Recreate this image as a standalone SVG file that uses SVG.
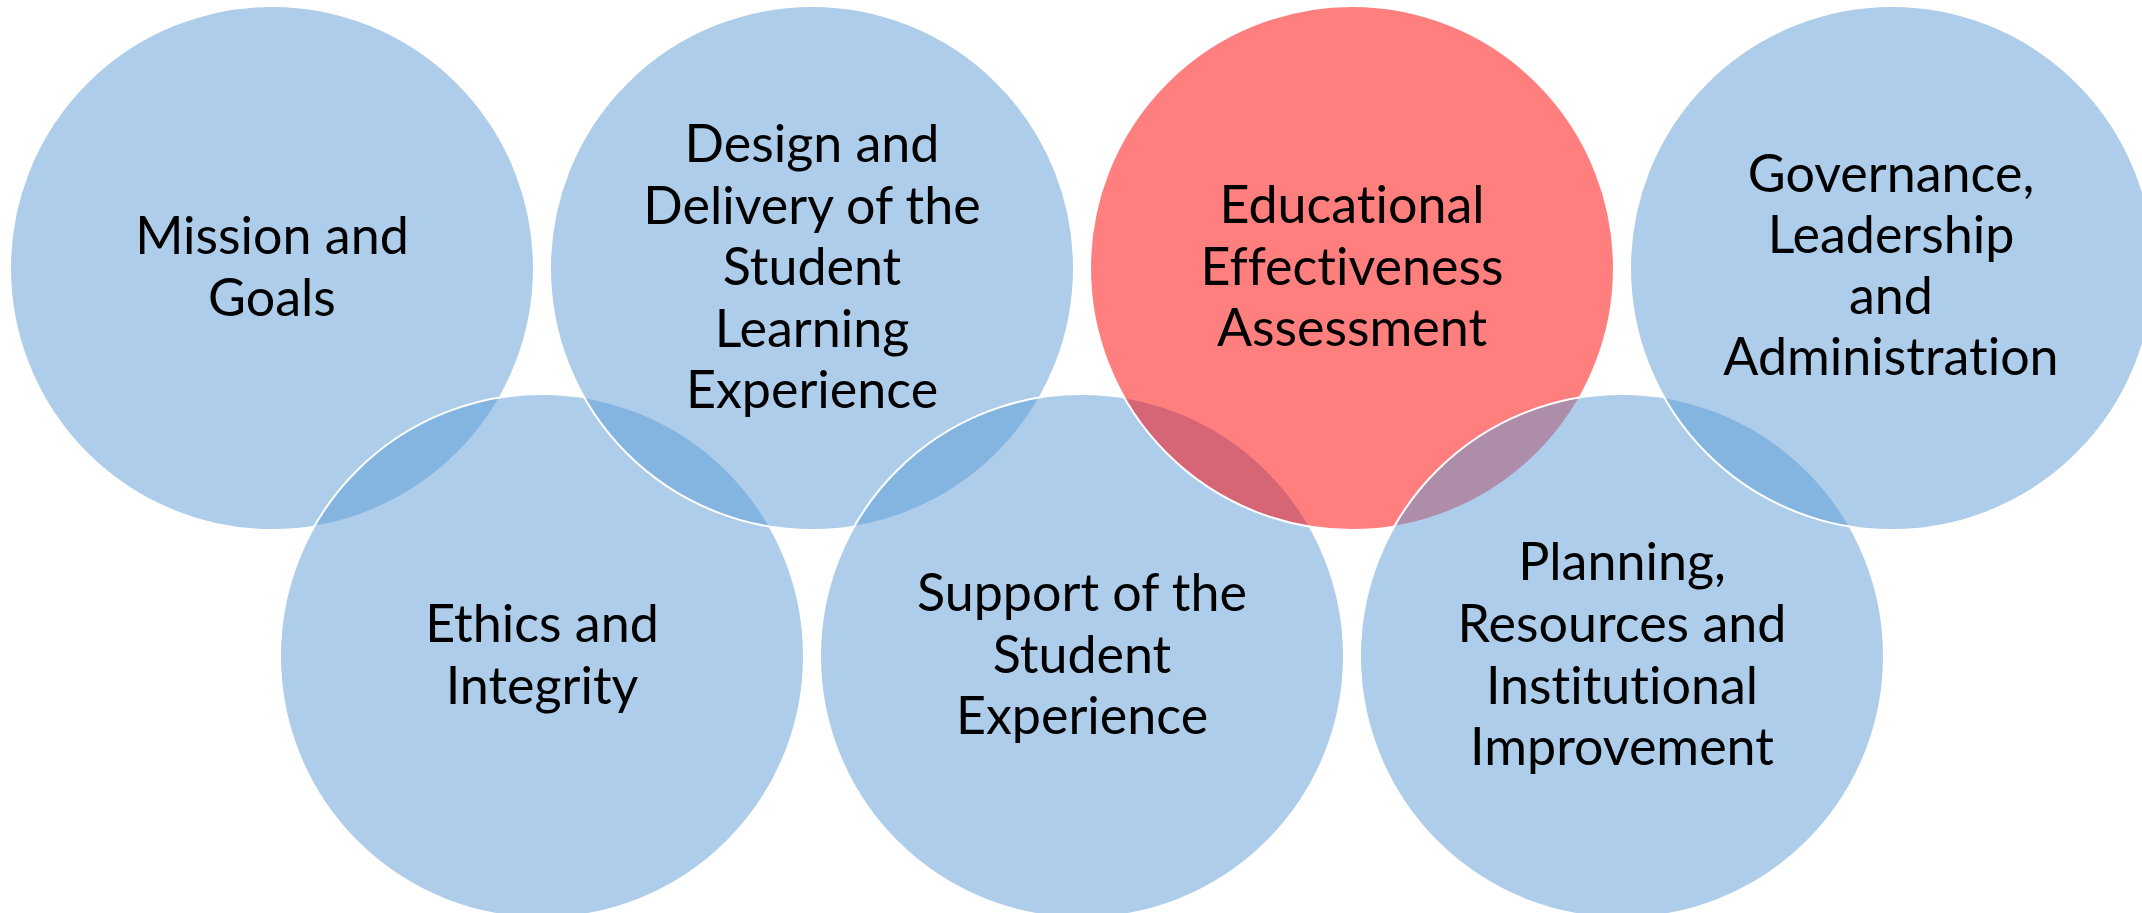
<svg xmlns="http://www.w3.org/2000/svg" width="2142" height="913" viewBox="0 0 2142 913">
  <style>
    .blue { fill: #5B9BD5; fill-opacity: 0.5; stroke: #FFFFFF; stroke-width: 2; }
    .red { fill: #FF0000; fill-opacity: 0.5; stroke: #FFFFFF; stroke-width: 2; }
    .lbl { font-family: Lato, "Liberation Sans", sans-serif; font-size: 52px; fill: #000000; text-anchor: middle; font-variant-ligatures: none; }
  </style>
  <rect width="2142" height="913" fill="#FFFFFF"/>
  <!-- Linear venn: top row cy=268, bottom row cy=656, r=262; drawn left to right so later circles overlay earlier ones -->
  <g id="mission">
    <circle class="blue" cx="272" cy="268" r="262"/>
    <text class="lbl"><tspan x="272" y="254">Mission and</tspan><tspan x="272" y="316">Goals</tspan></text>
  </g>
  <g id="ethics">
    <circle class="blue" cx="542" cy="656" r="262"/>
    <text class="lbl"><tspan x="542" y="642">Ethics and</tspan><tspan x="542" y="704">Integrity</tspan></text>
  </g>
  <g id="design">
    <circle class="blue" cx="812" cy="268" r="262"/>
    <text class="lbl"><tspan x="812" y="162">Design and</tspan><tspan x="812" y="224">Delivery of the</tspan><tspan x="812" y="285">Student</tspan><tspan x="812" y="347">Learning</tspan><tspan x="812" y="408">Experience</tspan></text>
  </g>
  <g id="support">
    <circle class="blue" cx="1082" cy="656" r="262"/>
    <text class="lbl"><tspan x="1082" y="611">Support of the</tspan><tspan x="1082" y="673">Student</tspan><tspan x="1082" y="734">Experience</tspan></text>
  </g>
  <g id="educational">
    <circle class="red" cx="1352" cy="268" r="262"/>
    <text class="lbl"><tspan x="1352" y="223">Educational</tspan><tspan x="1352" y="285">Effectiveness</tspan><tspan x="1352" y="346">Assessment</tspan></text>
  </g>
  <g id="planning">
    <circle class="blue" cx="1622" cy="656" r="262"/>
    <text class="lbl"><tspan x="1622" y="580">Planning,</tspan><tspan x="1622" y="642">Resources and</tspan><tspan x="1622" y="704">Institutional</tspan><tspan x="1622" y="765">Improvement</tspan></text>
  </g>
  <g id="governance">
    <circle class="blue" cx="1892" cy="268" r="262"/>
    <text class="lbl"><tspan x="1891" y="192">Governance,</tspan><tspan x="1891" y="253">Leadership</tspan><tspan x="1891" y="314">and</tspan><tspan x="1891" y="375">Administration</tspan></text>
  </g>
  <g id="connectors"/>
</svg>
